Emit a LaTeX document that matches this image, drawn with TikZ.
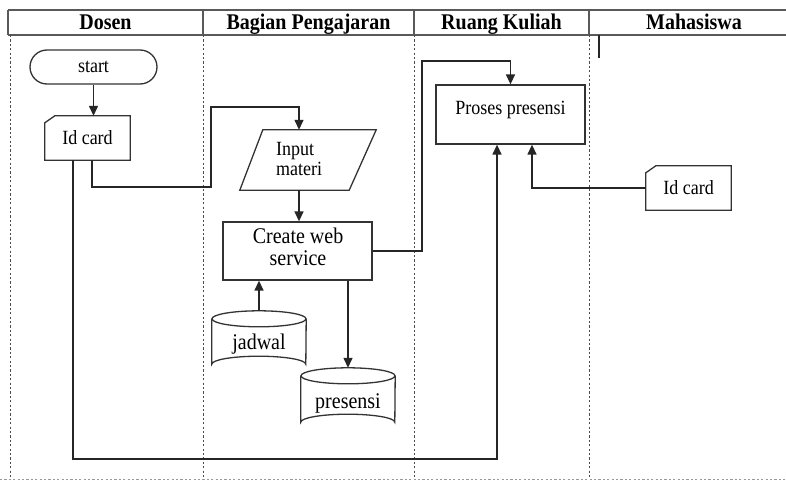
\documentclass[tikz,border=0pt]{standalone}
\usepackage{fontspec}
\setmainfont{Liberation Serif}
\usetikzlibrary{arrows.meta,calc}
\newcommand{\ys}[1]{\scalebox{1}[1.12]{#1}}
\begin{document}
\begin{tikzpicture}[x=1pt,y=-1pt,
  hline/.style={draw=black!65, line width=1.3pt},
  lane/.style={draw=black!70, line width=0.9pt, dash pattern=on 2.2pt off 2.2pt},
  conn/.style={draw=black!85, line width=1.4pt, -{Triangle[length=10pt,width=9pt]}},
  box/.style={draw=black!80, line width=1.3pt},
  hdr/.style={font=\fontsize{20}{22}\selectfont\bfseries, anchor=base},
  txt/.style={font=\fontsize{18}{20}\selectfont},
  big/.style={font=\fontsize{20}{22}\selectfont},
  area/.style={inner sep=0pt}
]
\useasboundingbox (0,0) rectangle (786,482);
\fill[white] (0,0) rectangle (786,482);

% header
\draw[hline] (8,10) -- (786,10);
\draw[hline] (8,35) -- (786,35);
\foreach \x in {8,203,414,589} \draw[hline] (\x,10) -- (\x,35);
\node[hdr] (hDosen) at (105.5,29.5) {\ys{Dosen}};
\node[hdr] (hBagian) at (308.5,29.5) {\ys{Bagian Pengajaran}};
\node[hdr] (hRuang) at (501.5,29.5) {\ys{Ruang Kuliah}};
\node[hdr] (hMhs) at (694,29.5) {\ys{Mahasiswa}};

% lanes
\foreach \x in {10,203,414,589} \draw[lane] (\x,35) -- (\x,479);
\draw[lane, draw=black!40] (0,479) -- (786,479);
\draw[draw=black!85, line width=1.6pt] (599,35) -- (599,58);

% start
\node[box, rounded corners=17pt, minimum width=127pt, minimum height=34pt, txt] (start) at (93.5,67) {\ys{start}};

% Id card (Dosen)
\node[area, txt, minimum width=85pt, minimum height=44pt] (id1) at (87.5,138) {\ys{Id card}};
\draw[box] ($(id1.north west)+(0,7)$) -- ($(id1.north west)+(10,0)$) -- (id1.north east) -- (id1.south east) -- (id1.south west) -- cycle;

% Input materi
\node[area, minimum width=136pt, minimum height=60pt] (inp) at (308,160) {};
\draw[box] ($(inp.north west)+(23,0)$) -- (inp.north east) -- ($(inp.south east)+(-27,0)$) -- (inp.south west) -- cycle;
\node[txt, align=left] (inptext) at (299,159) {\ys{Input}\\\ys{materi}};

% Create web service
\node[box, minimum width=149pt, minimum height=58pt] (cws) at (297.5,251) {};
\node[big, align=center] (cwstext) at (298,247) {\ys{Create web}\\\ys{service}};

% jadwal
\node[area, minimum width=94pt, minimum height=61pt] (jad) at (259,341.5) {};
\draw[box, fill=white] ($(jad.north west)+(0,8)$) -- ($(jad.south west)+(0,-8)$) arc[start angle=180, end angle=0, x radius=47pt, y radius=8pt] -- ($(jad.north east)+(0,8)$);
\draw[box] ($(jad.north)+(0,8)$) ellipse[x radius=47pt, y radius=8pt];
\node[big] (jadtext) at (259,344) {\ys{jadwal}};

% presensi
\node[area, minimum width=94pt, minimum height=62pt] (pres) at (348,399) {};
\draw[box] ($(pres.north west)+(0,8)$) -- ($(pres.south west)+(0,-8)$) arc[start angle=180, end angle=0, x radius=47pt, y radius=8pt] -- ($(pres.north east)+(0,8)$);
\draw[box] ($(pres.north)+(0,8)$) ellipse[x radius=47pt, y radius=8pt];
\node[big] (prestext) at (348,403) {\ys{presensi}};

% Proses presensi
\node[box, minimum width=149pt, minimum height=59pt] (pp) at (510.5,114.5) {};
\node[txt] (pptext) at (510.5,110) {\ys{Proses presensi}};

% Id card (Mahasiswa)
\node[area, txt, minimum width=85pt, minimum height=44pt] (id2) at (688.5,188) {\ys{Id card}};
\draw[box] ($(id2.north west)+(0,7)$) -- ($(id2.north west)+(10,0)$) -- (id2.north east) -- (id2.south east) -- (id2.south west) -- cycle;

% connectors
\draw[conn] (start.south) -- (start.south |- id1.north);
\draw[conn] ($(id1.south)+(4.5,0)$) |- (211,187) |- (299,107) -- ($(inp.north)+(-9,0)$);
\coordinate (inpb) at ($(inp.south)+(-9,0)$);
\draw[conn] (inpb) -- (inpb |- cws.north);
\draw[conn] (jad.north) -- (cws.south -| jad.north);
\draw[conn] (cws.south -| pres.north) -- (pres.north);
\draw[conn] (cws.east) -| (422,61) -| (pp.north);
\coordinate (id1L) at ($(id1.south)+(-14.5,0)$);
\coordinate (ppL) at ($(pp.south)+(-13.5,0)$);
\draw[conn] (id1L) |- (497,459) -- (ppL);
\draw[conn] (id2.west) -| ($(pp.south)+(21.5,0)$);
\end{tikzpicture}
\end{document}
